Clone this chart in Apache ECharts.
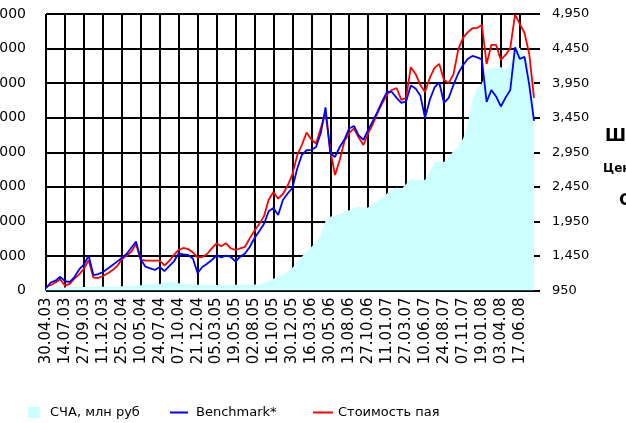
<!DOCTYPE html>
<html>
<head>
<meta charset="utf-8">
<script src="https://cdn.jsdelivr.net/npm/echarts@6/dist/echarts.min.js"></script>
<style>
html,body{margin:0;padding:0;background:#fff;}
#chart{width:626px;height:423px;}
</style>
</head>
<body>
<div id="chart"></div>
<script>
// Tick labels (every 4th point on the category axis)
var tickLabels = ['30.04.03','14.07.03','27.09.03','11.12.03','25.02.04','10.05.04','24.07.04','07.10.04','21.12.04','05.03.05','19.05.05','02.08.05','16.10.05','30.12.05','16.03.06','30.05.06','13.08.06','27.10.06','11.01.07','27.03.07','10.06.07','24.08.07','07.11.07','19.01.08','03.04.08','17.06.08'];
var pointsPerTick = 4;

// Стоимость пая (right axis)
var unitPrice = [
 1000,1030,1066,1112,1020,1047,1122,1183,1265,1387,
 1137,1131,1160,1195,1242,1300,1401,1454,1511,1623,
 1391,1384,1381,1381,1381,1312,1377,1464,1536,1565,
 1550,1500,1425,1435,1478,1559,1630,1591,1633,1558,
 1536,1561,1582,1704,1814,1912,2022,2264,2375,2278,
 2346,2466,2626,2900,3055,3236,3135,3076,3301,3511,
 2983,2620,2838,3113,3229,3294,3164,3055,3222,3359,
 3518,3663,3786,3851,3880,3707,3736,4180,4083,3924,
 3822,4025,4170,4228,3996,3953,4076,4430,4604,4684,
 4744,4748,4792,4227,4502,4502,4285,4357,4459,4940,
 4806,4675,4372,3736
];

// Benchmark* (right axis)
var benchmark = [
 982,1066,1092,1148,1087,1073,1145,1254,1326,1456,
 1174,1186,1218,1264,1316,1368,1420,1478,1568,1659,
 1399,1294,1271,1247,1290,1232,1304,1370,1488,1471,
 1464,1413,1203,1290,1336,1391,1456,1428,1456,1435,
 1370,1439,1485,1579,1707,1807,1912,2097,2144,2042,
 2260,2353,2433,2708,2911,2979,2983,3026,3229,3598,
 2932,2882,3026,3135,3294,3330,3193,3131,3272,3403,
 3540,3692,3828,3822,3736,3663,3685,3916,3872,3772,
 3446,3707,3887,3960,3663,3736,3924,4089,4209,4300,
 4343,4323,4293,3678,3851,3757,3612,3740,3851,4466,
 4300,4329,3924,3403
];

// СЧА, млн руб (left axis)
var nav = [
 70,80,85,90,90,95,95,100,100,100,
 100,105,105,110,110,115,120,130,130,140,
 150,170,180,190,190,230,250,240,210,200,
 190,180,165,160,160,160,160,165,160,160,
 165,165,170,170,175,180,220,270,340,400,
 448,535,651,824,978,1128,1258,1403,1606,2011,
 2135,2170,2199,2285,2320,2387,2424,2387,2401,2511,
 2589,2676,2812,2907,2980,2922,3081,3226,3197,3197,
 3197,3428,3726,3726,3717,3862,4036,4151,4383,4788,
 5511,5858,5974,6379,6428,6451,6466,6350,6582,7073,
 7015,6784,6553,6292
];

var leftTicks = [0,1000,2000,3000,4000,5000,6000,7000,8000];
var rightTicks = [950,1450,1950,2450,2950,3450,3950,4450,4950];

var categories = nav.map(function(_, i){
  return (i % pointsPerTick === 0 && tickLabels[i / pointsPerTick]) ? tickLabels[i / pointsPerTick] : '';
});

function fmtComma(v){
  var s = String(Math.round(v));
  return s.replace(/\B(?=(\d{3})+(?!\d))/g, ',');
}

var FONT = 'DejaVu Sans';
var LEG_TOP = 406;
var chart = echarts.init(document.getElementById('chart'), null, {renderer:'canvas'});
chart.setOption({
  animation: false,
  backgroundColor: '#ffffff',
  textStyle: {fontFamily: FONT, color: '#000'},
  grid: {left: 46, top: 14, width: 488, height: 276.5, containLabel: false, outerBoundsMode: 'none'},
  xAxis: {
    type: 'category',
    data: categories,
    boundaryGap: false,
    axisLine: {show: false},
    axisTick: {show: false, interval: pointsPerTick - 1},
    axisLabel: {interval: pointsPerTick - 1, rotate: 90, fontSize: 15, color: '#000', margin: 7, fontFamily: FONT, hideOverlap: false},
    splitLine: {show: true, interval: pointsPerTick - 1, lineStyle: {color: '#000', width: 2}}
  },
  yAxis: [
    {
      type: 'value', min: leftTicks[0], max: leftTicks[leftTicks.length-1], interval: 1000,
      position: 'left',
      axisLine: {show: false}, axisTick: {show: false},
      axisLabel: {fontSize: 14, color: '#000', margin: 20, fontFamily: FONT,
        formatter: function(v){ return String(v); }},
      splitLine: {show: true, lineStyle: {color: '#000', width: 2}}
    },
    {
      type: 'value', min: rightTicks[0], max: rightTicks[rightTicks.length-1], interval: 500,
      position: 'right',
      axisLine: {show: false},
      axisTick: {show: true, length: 6, customValues: rightTicks, lineStyle: {color: '#000', width: 2}},
      axisLabel: {fontSize: 13, color: '#000', margin: 18, fontFamily: FONT, customValues: rightTicks,
        formatter: function(v){ return fmtComma(v); }},
      splitLine: {show: false}
    }
  ],
  legend: [
    {data: [{name: 'СЧА, млн руб', icon: 'rect', itemStyle: {color: '#ccffff'}}], left: 28, top: LEG_TOP, padding: 0,
     itemWidth: 12, itemHeight: 11, textStyle: {fontSize: 13, color: '#000', fontFamily: FONT, padding: [0,0,0,5]}, selectedMode: false},
    {data: [{name: 'Benchmark*', icon: 'rect', itemStyle: {color: '#0000ff'}}], left: 170, top: LEG_TOP, padding: 0, itemWidth: 18, itemHeight: 2,
     textStyle: {fontSize: 13, color: '#000', fontFamily: FONT, padding: [0,0,0,3]}, selectedMode: false},
    {data: [{name: 'Стоимость пая', icon: 'rect', itemStyle: {color: '#ff0000'}}], left: 313, top: LEG_TOP, padding: 0, itemWidth: 20, itemHeight: 2,
     textStyle: {fontSize: 13, color: '#000', fontFamily: FONT}, selectedMode: false}
  ],
  series: [
    {
      name: 'СЧА, млн руб', type: 'line', yAxisIndex: 0, data: nav, symbol: 'none', silent: true,
      lineStyle: {width: 0, color: '#ccffff'}, itemStyle: {color: '#ccffff'},
      areaStyle: {color: '#ccffff', opacity: 1}
    },
    {
      name: 'Стоимость пая', type: 'line', yAxisIndex: 1, data: unitPrice, symbol: 'none', silent: true,
      lineStyle: {width: 1.8, color: '#ff0000'}, itemStyle: {color: '#ff0000'}
    },
    {
      name: 'Benchmark*', type: 'line', yAxisIndex: 1, data: benchmark, symbol: 'none', silent: true,
      lineStyle: {width: 1.8, color: '#0000ff'}, itemStyle: {color: '#0000ff'}
    }
  ],
  graphic: [
    {type: 'text', left: 605, top: 128, style: {text: 'Ш', fontSize: 17, fontWeight: 'bold', fontFamily: FONT, fill: '#000'}},
    {type: 'text', left: 603, top: 163, style: {text: 'Цен', fontSize: 12, fontWeight: 'bold', fontFamily: FONT, fill: '#000'}},
    {type: 'text', left: 619, top: 193, style: {text: 'С', fontSize: 16, fontWeight: 'bold', fontFamily: FONT, fill: '#000'}}
  ]
});
</script>
</body>
</html>
